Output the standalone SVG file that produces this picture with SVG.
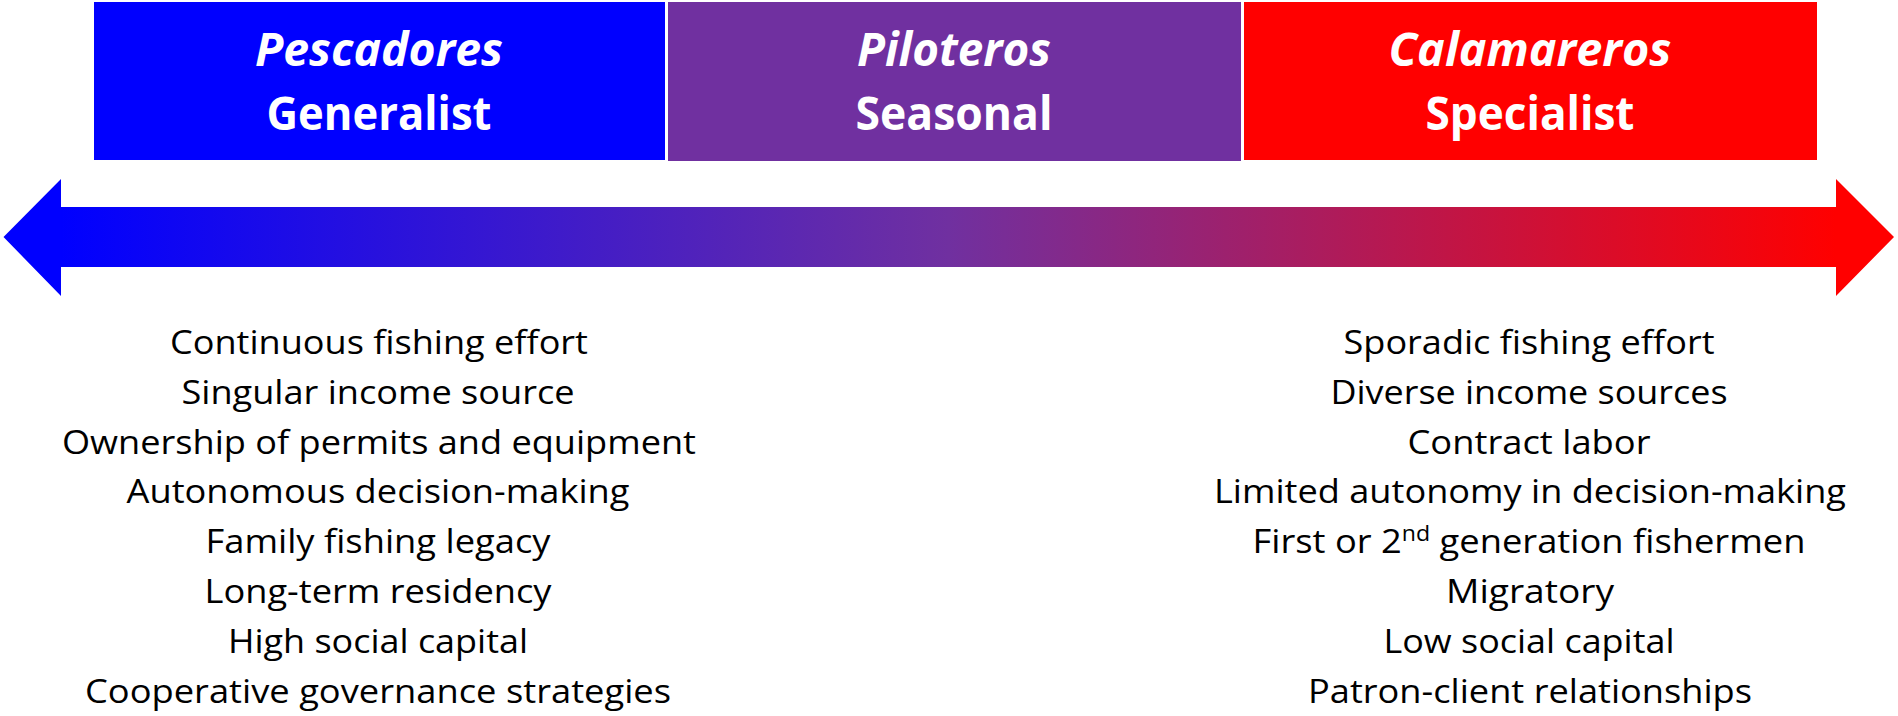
<svg xmlns="http://www.w3.org/2000/svg" width="1898" height="716" viewBox="0 0 1898 716">
  <style>
    .title { font-family: "Open Sans", "Liberation Sans", sans-serif; font-weight: 700; font-size: 47px; fill: #FFFFFF; text-anchor: middle; }
    .it { font-style: italic; }
    .item { font-family: "Open Sans", "Liberation Sans", sans-serif; font-size: 33px; fill: #000000; text-anchor: middle; }
  </style>
  <defs>
    <linearGradient id="spectrum" gradientUnits="userSpaceOnUse" x1="61" y1="0" x2="1836" y2="0">
      <stop offset="0" stop-color="#0000FF"/>
      <stop offset="0.5" stop-color="#7030A0"/>
      <stop offset="1" stop-color="#FF0000"/>
    </linearGradient>
  </defs>
  <rect x="0" y="0" width="1898" height="716" fill="#FFFFFF"/>

  <g id="connectors">
    <polygon points="3.5,237 61,179 61,207 1836,207 1836,179 1894,237 1836,296 1836,267 61,267 61,296" fill="url(#spectrum)"/>
  </g>

  <g id="pescadores">
    <rect x="94" y="2" width="571" height="158" fill="#0000FF"/>
    <text class="title it" x="379" y="66" textLength="248" lengthAdjust="spacingAndGlyphs">Pescadores</text>
    <text class="title" x="379" y="130" textLength="225" lengthAdjust="spacingAndGlyphs">Generalist</text>
  </g>

  <g id="piloteros">
    <rect x="668" y="2" width="573" height="159" fill="#7030A0"/>
    <text class="title it" x="954" y="66" textLength="194" lengthAdjust="spacingAndGlyphs">Piloteros</text>
    <text class="title" x="954" y="130" textLength="197" lengthAdjust="spacingAndGlyphs">Seasonal</text>
  </g>

  <g id="calamareros">
    <rect x="1244" y="2" width="573" height="158" fill="#FF0000"/>
    <text class="title it" x="1530" y="66" textLength="283" lengthAdjust="spacingAndGlyphs">Calamareros</text>
    <text class="title" x="1530" y="130" textLength="209" lengthAdjust="spacingAndGlyphs">Specialist</text>
  </g>

  <g id="generalist-traits">
    <text class="item" x="379" y="354" textLength="418" lengthAdjust="spacingAndGlyphs">Continuous fishing effort</text>
    <text class="item" x="378" y="404" textLength="393" lengthAdjust="spacingAndGlyphs">Singular income source</text>
    <text class="item" x="379" y="454" textLength="634" lengthAdjust="spacingAndGlyphs">Ownership of permits and equipment</text>
    <text class="item" x="378" y="503" textLength="503" lengthAdjust="spacingAndGlyphs">Autonomous decision-making</text>
    <text class="item" x="378" y="553" textLength="345" lengthAdjust="spacingAndGlyphs">Family fishing legacy</text>
    <text class="item" x="378" y="603" textLength="347" lengthAdjust="spacingAndGlyphs">Long-term residency</text>
    <text class="item" x="378" y="653" textLength="300" lengthAdjust="spacingAndGlyphs">High social capital</text>
    <text class="item" x="378" y="703" textLength="586" lengthAdjust="spacingAndGlyphs">Cooperative governance strategies</text>
  </g>

  <g id="specialist-traits">
    <text class="item" x="1529" y="354" textLength="371" lengthAdjust="spacingAndGlyphs">Sporadic fishing effort</text>
    <text class="item" x="1529" y="404" textLength="397" lengthAdjust="spacingAndGlyphs">Diverse income sources</text>
    <text class="item" x="1529" y="454" textLength="243" lengthAdjust="spacingAndGlyphs">Contract labor</text>
    <text class="item" x="1530" y="503" textLength="632" lengthAdjust="spacingAndGlyphs">Limited autonomy in decision-making</text>
    <text class="item" x="1529" y="553" textLength="553" lengthAdjust="spacingAndGlyphs">First or 2<tspan font-size="21" dy="-12">nd</tspan><tspan dy="12"> generation fishermen</tspan></text>
    <text class="item" x="1530" y="603" textLength="168" lengthAdjust="spacingAndGlyphs">Migratory</text>
    <text class="item" x="1529" y="653" textLength="291" lengthAdjust="spacingAndGlyphs">Low social capital</text>
    <text class="item" x="1530" y="703" textLength="444" lengthAdjust="spacingAndGlyphs">Patron-client relationships</text>
  </g>
</svg>
